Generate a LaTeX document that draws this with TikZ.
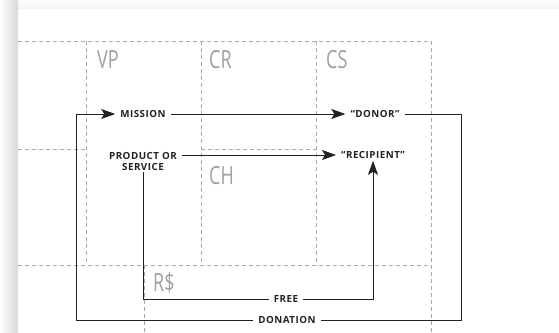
\documentclass[tikz,border=0pt]{standalone}
\usepackage{fontspec}
\setmainfont{Open Sans}
\newfontfamily\cellfont[FakeStretch=0.72]{Open Sans}
\newfontfamily\tagfont[LetterSpace=5]{Open Sans}
\usetikzlibrary{arrows.meta}
\definecolor{gridgray}{HTML}{AAAAAA}
\definecolor{cellgray}{HTML}{A0A0A0}
\definecolor{ink}{HTML}{222222}
\begin{document}
\begin{tikzpicture}[x=1pt,y=-1pt,
		grid/.style={draw=gridgray, dash pattern=on 4pt off 3pt, line width=0.7pt},
		cell/.style={anchor=base west, inner sep=0pt, text=cellgray, font=\cellfont\fontsize{25}{25}\selectfont},
		tag/.style={font=\tagfont\bfseries\fontsize{9.8}{11}\selectfont, text=ink, inner xsep=5pt, inner ysep=2pt, align=center},
		flow/.style={draw=ink, line width=0.9pt},
		toarrow/.style={flow, -{Stealth[length=14pt,width=10pt,inset=3pt]}}]
	\useasboundingbox (0,0) rectangle (559,332);
	
	% Page and shadow
	\fill[white] (0,0) rectangle (559,332);
	\shade[top color=gray!2, bottom color=gray!9] (18,0) rectangle (559,8);
	\shade[left color=white, right color=gray!30] (0,0) rectangle (18,332);
	
	% Canvas grid
	\draw[grid] (18,41) -- (431,41);
	\draw[grid] (18,149) -- (86,149);
	\draw[grid] (201,149) -- (316,149);
	\draw[grid] (18,265) -- (431,265);
	\draw[grid] (86,41) -- (86,265);
	\draw[grid] (201,41) -- (201,265);
	\draw[grid] (316,41) -- (316,265);
	\draw[grid] (431,41) -- (431,332);
	\draw[grid] (144,265) -- (144,332);
	
	% Block labels
	\node[cell] (vp) at (97,68) {VP};
	\node[cell] (cr) at (209,68) {CR};
	\node[cell] (cs) at (326,68) {CS};
	\node[cell] (ch) at (209,184) {CH};
	\node[cell] (rs) at (153,291) {R\$};
	
	% Items
	\node[tag] (mission) at (143,114) {MISSION};
	\node[tag] (donor) at (375,114) {“DONOR”};
	\node[tag] (product) at (143,161) {PRODUCT OR\\SERVICE};
	\node[tag] (recipient) at (373,155) {“RECIPIENT”};
	\node[tag] (free) at (286,299) {FREE};
	\node[tag] (donation) at (287,320) {DONATION};
	
	\coordinate (lturn) at (76,114);
	\coordinate (rturn) at (461,114);
	
	% Flows
	\draw[toarrow] (mission.east) -- (donor.west);
	\draw[toarrow] (product.east |- recipient.west) -- (recipient.west);
	\draw[toarrow] (donation.west) -| (lturn) -- (mission.west);
	\draw[flow] (donor.east) -- (rturn) |- (donation.east);
	\draw[flow] (product.south) |- (free.west);
	\draw[toarrow] (free.east) -| (recipient.south);
\end{tikzpicture}
\end{document}
